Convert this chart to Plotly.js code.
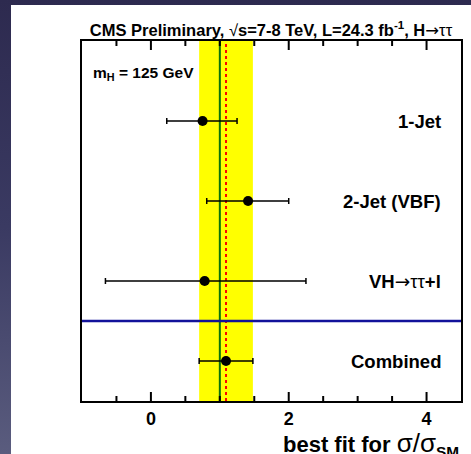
<!DOCTYPE html>
<html>
<head>
<meta charset="utf-8">
<script src="https://cdn.plot.ly/plotly-3.0.1.min.js"></script>
<style>
  html, body { margin: 0; padding: 0; width: 471px; height: 454px; overflow: hidden; }
  body { background: linear-gradient(to bottom, #2d2a4f 0%, #3a3a62 50%, #5a5c7e 100%); position: relative; }
  #chart { position: absolute; left: 11px; top: 5px; width: 460px; height: 449px; background: #ffffff; }
</style>
</head>
<body>
<div id="chart"></div>
<script>
// Signal strength per event category (best fit of sigma/sigma_SM), H -> tautau, mH = 125 GeV
const ARROW = '<span style="font-family:DejaVu Sans;font-weight:normal">→</span>';
const categories = ['1-Jet', '2-Jet (VBF)', 'VH' + ARROW + '<span style="font-weight:normal">ττ</span>+l', 'Combined'];
const muBest    = [0.75, 1.41, 0.78, 1.09];
const errLow    = [0.52, 0.60, 1.44, 0.39];
const errHigh   = [0.50, 0.59, 1.47, 0.39];
const smValue   = 1.0;
const xRange    = [-1, 4.5];
const xMajorTicks = [0, 2, 4];
const xMinorTicks = [-0.5, 0.5, 1, 1.5, 2.5, 3, 3.5];

const FONT = 'Liberation Sans, Arial, Helvetica, sans-serif';
const W = 460, H = 449;
const MARGIN = { l: 71, r: 10, t: 36, b: 53, pad: 0 };
const plotH = H - MARGIN.t - MARGIN.b;

const nCat = categories.length;
const yRange = [0, nCat + 0.5];
const slotY = categories.map((_, i) => nCat - i - 0.5);
const iComb = nCat - 1;

// inward tick marks on bottom and top frame edges, as one polyline with gaps
function tickTrace(values, lenPx) {
  const d = lenPx / plotH * (yRange[1] - yRange[0]);
  const xs = [], ys = [];
  values.forEach(v => {
    xs.push(v, v, null, v, v, null);
    ys.push(yRange[0], yRange[0] + d, null, yRange[1] - d, yRange[1], null);
  });
  return { type: 'scatter', mode: 'lines', x: xs, y: ys, connectgaps: false,
    line: { color: '#000000', width: 2 }, hoverinfo: 'skip', showlegend: false };
}

const points = {
  type: 'scatter',
  mode: 'markers',
  x: muBest,
  y: slotY,
  marker: { color: 'black', size: 10, symbol: 'circle' },
  error_x: {
    type: 'data',
    symmetric: false,
    array: errHigh,
    arrayminus: errLow,
    color: 'black',
    thickness: 1.5,
    width: 3
  },
  hoverinfo: 'skip',
  cliponaxis: false
};

const shapes = [
  // combined uncertainty band
  { type: 'rect', layer: 'below', xref: 'x', yref: 'paper',
    x0: muBest[iComb] - errLow[iComb], x1: muBest[iComb] + errHigh[iComb], y0: 0, y1: 1,
    fillcolor: '#ffff00', line: { width: 0 } },
  // SM expectation
  { type: 'line', layer: 'below', xref: 'x', yref: 'paper',
    x0: smValue, x1: smValue, y0: 0, y1: 1,
    line: { color: '#0b730b', width: 2 } },
  // combined best fit
  { type: 'line', layer: 'below', xref: 'x', yref: 'paper',
    x0: muBest[iComb], x1: muBest[iComb], y0: 0, y1: 1,
    line: { color: '#ff0000', width: 2, dash: 'dot' } },
  // separator between channels and combination
  { type: 'line', layer: 'below', xref: 'paper', yref: 'y',
    x0: 0, x1: 1, y0: 1, y1: 1,
    line: { color: '#12129a', width: 2.5 } }
];

const annotations = categories.map((c, i) => ({
  xref: 'paper', yref: 'y', x: 0.953, y: slotY[i],
  xanchor: 'right', yanchor: 'middle', showarrow: false,
  text: '<b>' + c + '</b>',
  font: { family: FONT, size: 18.5, color: 'black' }
}));

annotations.push({
  xref: 'paper', yref: 'paper', x: 0.025, y: 0.91,
  xanchor: 'left', yanchor: 'middle', showarrow: false,
  text: '<b>m<sub>H</sub> = 125 GeV</b>',
  font: { family: FONT, size: 15.5, color: 'black' }
});

annotations.push({
  xref: 'paper', yref: 'paper', x: 1.0, y: 0, yshift: -25,
  xanchor: 'right', yanchor: 'top', showarrow: false,
  text: '<b>best fit for </b><span style="font-size:26px">σ/σ</span><sub><b>SM</b></sub>',
  font: { family: FONT, size: 22, color: 'black' }
});

const layout = {
  width: W,
  height: H,
  margin: MARGIN,
  paper_bgcolor: '#ffffff',
  plot_bgcolor: '#ffffff',
  showlegend: false,
  title: {
    text: '<b>CMS Preliminary, </b><span style="font-weight:normal">√</span><b>s=7-8 TeV, L=24.3 fb<sup>-1</sup>, H</b>' + ARROW + 'ττ',
    font: { family: FONT, size: 16.5, color: 'black' },
    xref: 'container', x: 260 / W, xanchor: 'center',
    yref: 'container', y: 1 - 25 / H, yanchor: 'middle'
  },
  xaxis: {
    range: xRange,
    tickmode: 'array', tickvals: xMajorTicks, ticktext: xMajorTicks.map(String),
    ticks: '',
    showline: true, linecolor: 'black', linewidth: 2, mirror: true,
    showgrid: false, zeroline: false,
    tickfont: { family: FONT, size: 18, color: 'black', weight: 'bold' }
  },
  yaxis: {
    range: yRange,
    showticklabels: false, ticks: '',
    showline: true, linecolor: 'black', linewidth: 2, mirror: true,
    showgrid: false, zeroline: false
  },
  shapes: shapes,
  annotations: annotations
};

Plotly.newPlot('chart', [tickTrace(xMajorTicks, 9), tickTrace(xMinorTicks, 5), points], layout,
  { staticPlot: true, displayModeBar: false });
</script>
</body>
</html>
